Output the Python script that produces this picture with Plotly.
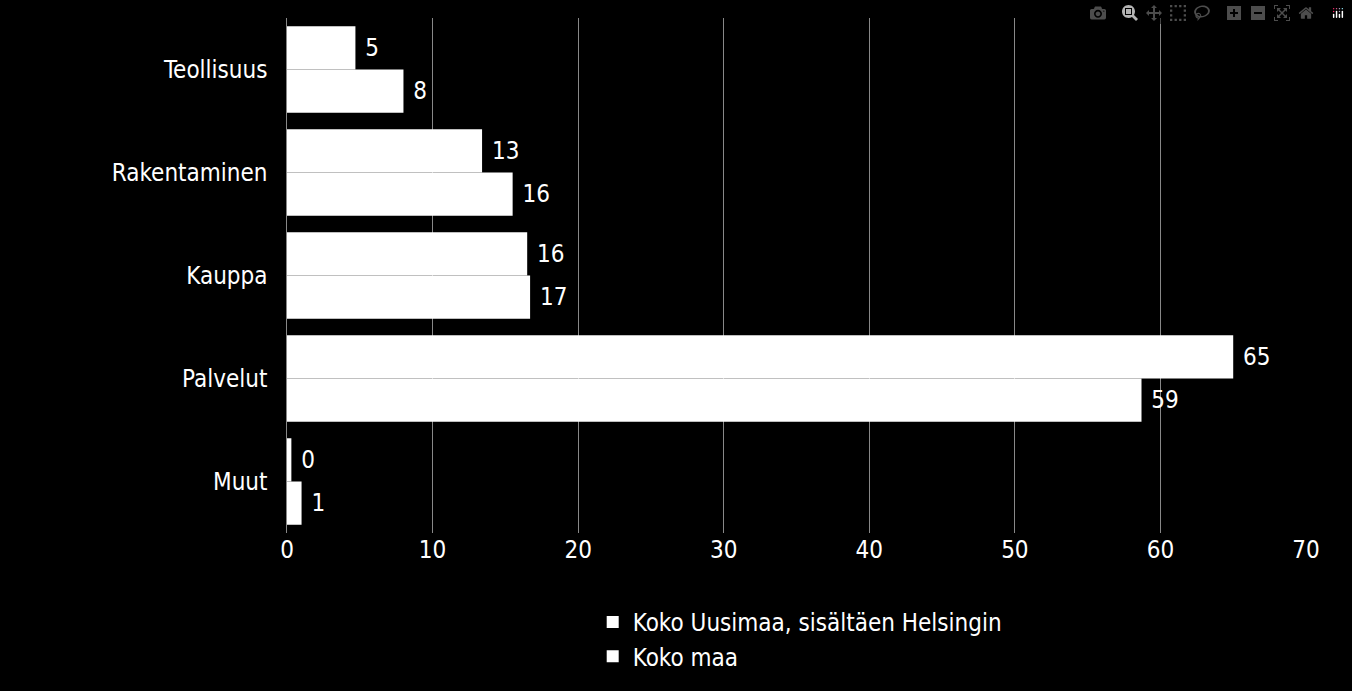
import plotly.graph_objects as go

categories = ["Teollisuus", "Rakentaminen", "Kauppa", "Palvelut", "Muut"]
uusimaa = [4.7, 13.4, 16.5, 65.0, 0.3]
koko_maa = [8.0, 15.5, 16.7, 58.7, 1.0]
series_names = ["Koko Uusimaa, sisältäen Helsingin", "Koko maa"]

fig = go.Figure()
for name, vals in zip(series_names, [uusimaa, koko_maa]):
    fig.add_trace(go.Bar(
        y=categories, x=vals, name=name, orientation="h",
        marker=dict(color="white", line=dict(width=0)),
        text=[f" {v:.0f}" for v in vals], textposition="outside",
        textfont=dict(color="white", size=24), cliponaxis=False,
    ))

fig.update_layout(
    width=1352, height=691,
    paper_bgcolor="black", plot_bgcolor="black",
    font=dict(family="DejaVu Sans Condensed, DejaVu Sans", color="white", size=24),
    barmode="group", bargap=0.16, bargroupgap=0,
    margin=dict(l=287, r=46, t=18, b=143),
    showlegend=True,
    legend=dict(orientation="h", x=0.3, xanchor="left", y=-0.13, yanchor="top",
                font=dict(size=24, color="white"), itemwidth=30,
                entrywidthmode="pixels", entrywidth=590),
)
fig.update_xaxes(range=[0, 70], dtick=10, showgrid=True, gridcolor="#888888", gridwidth=1,
                 zeroline=False, showline=False, tickfont=dict(size=24), ticks="")
fig.update_yaxes(autorange="reversed", showgrid=False, showline=True, linecolor="#888888",
                 ticks="", tickfont=dict(size=24), ticksuffix="  ")
fig.write_html("out.html")

with open("out.html", encoding="utf-8") as f:
    html = f.read()
html = html.replace("<head>", "<head><style>html,body{margin:0;padding:0;background:black;overflow:hidden}</style>", 1)
with open("out.html", "w", encoding="utf-8") as f:
    f.write(html)
